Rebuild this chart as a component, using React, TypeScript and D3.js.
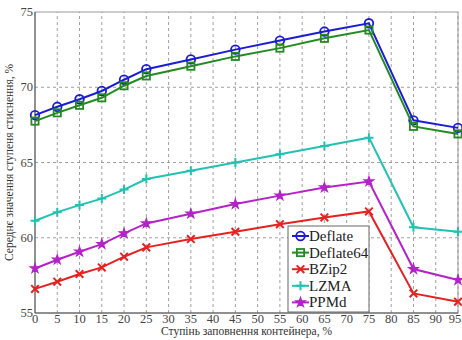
import * as d3 from "d3";
import { useEffect, useRef } from "react";

const fill = [0, 5, 10, 15, 20, 25, 35, 45, 55, 65, 75, 85, 95];
const deflate = [68.15, 68.7, 69.2, 69.75, 70.5, 71.2, 71.85, 72.5, 73.1, 73.7, 74.25, 67.8, 67.3];
const deflate64 = [67.75, 68.3, 68.8, 69.3, 70.1, 70.75, 71.4, 72.05, 72.6, 73.25, 73.8, 67.4, 66.9];
const bzip2 = [56.6, 57.08, 57.59, 58.03, 58.74, 59.36, 59.91, 60.4, 60.9, 61.35, 61.75, 56.3, 55.75];
const lzma = [61.13, 61.7, 62.17, 62.6, 63.2, 63.9, 64.45, 65.0, 65.55, 66.1, 66.65, 60.7, 60.4];
const ppmd = [57.96, 58.54, 59.07, 59.58, 60.29, 60.95, 61.6, 62.24, 62.8, 63.34, 63.74, 57.92, 57.19];
const xTicks = d3.range(0, 100, 5);
const yTicks = [55, 60, 65, 70, 75];

const series = [
  { name: "Deflate", values: deflate, color: "#1c1cd6", marker: "circle" },
  { name: "Deflate64", values: deflate64, color: "#238a23", marker: "square" },
  { name: "BZip2", values: bzip2, color: "#e52222", marker: "cross" },
  { name: "LZMA", values: lzma, color: "#22c2b2", marker: "plus" },
  { name: "PPMd", values: ppmd, color: "#b422c8", marker: "star" },
];

const App: React.FC = () => {
  const ref = useRef<SVGSVGElement | null>(null);

  useEffect(() => {
    const svg = d3.select(ref.current);
    svg.selectAll("*").remove();

    const width = 462,
      height = 340;
    const margin = { top: 12, right: 4, bottom: 27, left: 35 };
    const font = "Liberation Serif";

    svg.attr("width", width).attr("height", height).style("font-family", font);

    const x = d3.scaleLinear().domain([0, 95]).range([margin.left, width - margin.right]);
    const y = d3.scaleLinear().domain([55, 75]).range([height - margin.bottom, margin.top]);

    const g = svg.append("g");

    // grid
    g.selectAll(".vgrid")
      .data(xTicks.slice(1))
      .enter()
      .append("line")
      .attr("x1", (d) => x(d))
      .attr("x2", (d) => x(d))
      .attr("y1", y(55))
      .attr("y2", y(75))
      .attr("stroke", "#888")
      .attr("stroke-width", 0.8)
      .attr("stroke-dasharray", "3,3");
    g.selectAll(".hgrid")
      .data(yTicks.slice(1, -1))
      .enter()
      .append("line")
      .attr("x1", x(0))
      .attr("x2", x(95))
      .attr("y1", (d) => y(d))
      .attr("y2", (d) => y(d))
      .attr("stroke", "#888")
      .attr("stroke-width", 0.8)
      .attr("stroke-dasharray", "3,3");

    // frame
    g.append("rect")
      .attr("x", x(0))
      .attr("y", y(75))
      .attr("width", x(95) - x(0))
      .attr("height", y(55) - y(75))
      .attr("fill", "none")
      .attr("stroke", "#999")
      .attr("stroke-width", 1);
    g.append("line")
      .attr("x1", x(0)).attr("x2", x(0))
      .attr("y1", y(55)).attr("y2", y(75))
      .attr("stroke", "#555");
    g.append("line")
      .attr("x1", x(0)).attr("x2", x(95))
      .attr("y1", y(55)).attr("y2", y(55))
      .attr("stroke", "#555");

    // tick labels
    g.selectAll(".xt")
      .data(xTicks)
      .enter()
      .append("text")
      .attr("x", (d) => (d === 95 ? x(d) - 3 : x(d)))
      .attr("y", y(55) + 10)
      .attr("text-anchor", "middle")
      .attr("font-size", 12.5)
      .attr("fill", "#444")
      .text((d) => d);
    g.selectAll(".yt")
      .data(yTicks)
      .enter()
      .append("text")
      .attr("x", x(0) - 2)
      .attr("y", (d) => y(d) + 4)
      .attr("text-anchor", "end")
      .attr("font-size", 12.5)
      .attr("fill", "#444")
      .text((d) => d);

    g.append("text")
      .attr("x", (x(0) + x(95)) / 2)
      .attr("y", height - 5)
      .attr("text-anchor", "middle")
      .attr("font-size", 11.5)
      .attr("fill", "#333")
      .text("Ступінь заповнення контейнера, %");
    g.append("text")
      .attr("transform", `translate(13,${(y(55) + y(75)) / 2}) rotate(-90)`)
      .attr("text-anchor", "middle")
      .attr("font-size", 11.5)
      .attr("fill", "#333")
      .text("Середнє значення ступеня стиснення, %");

    const drawMarker = (sel: d3.Selection<SVGGElement, unknown, null, undefined>, m: string, color: string) => {
      if (m === "circle") {
        sel.append("circle").attr("r", 4.3).attr("fill", "none").attr("stroke", color).attr("stroke-width", 1.8);
      } else if (m === "square") {
        sel.append("rect").attr("x", -3.6).attr("y", -3.6).attr("width", 7.2).attr("height", 7.2)
          .attr("fill", "none").attr("stroke", color).attr("stroke-width", 1.8);
      } else if (m === "cross") {
        sel.append("path").attr("d", "M-3.8,-3.8L3.8,3.8M-3.8,3.8L3.8,-3.8").attr("stroke", color).attr("stroke-width", 2);
      } else if (m === "plus") {
        sel.append("path").attr("d", "M-4.5,0L4.5,0M0,-4.5L0,4.5").attr("stroke", color).attr("stroke-width", 2);
      } else {
        const star = d3.symbol().type(d3.symbolStar).size(28);
        sel.append("path").attr("d", star()).attr("fill", color).attr("stroke", color).attr("stroke-width", 1.2);
      }
    };

    const line = d3
      .line<number>()
      .x((_, i) => x(fill[i]))
      .y((d) => y(d));

    series.forEach((s) => {
      g.append("path")
        .attr("d", line(s.values))
        .attr("fill", "none")
        .attr("stroke", s.color)
        .attr("stroke-width", 2);
      s.values.forEach((v, i) => {
        const mg = g.append("g").attr("transform", `translate(${x(fill[i])},${y(v)})`);
        drawMarker(mg, s.marker, s.color);
      });
    });

    // legend
    const lx = 288,
      ly = 226;
    const lg = g.append("g").attr("transform", `translate(${lx},${ly})`);
    lg.append("rect")
      .attr("width", 81)
      .attr("height", 86)
      .attr("fill", "#fff")
      .attr("stroke", "#666")
      .attr("stroke-width", 1);
    series.forEach((s, i) => {
      const yy = 10 + i * 16.6;
      lg.append("line")
        .attr("x1", 4).attr("x2", 21)
        .attr("y1", yy).attr("y2", yy)
        .attr("stroke", s.color)
        .attr("stroke-width", 2);
      const mg = lg.append("g").attr("transform", `translate(12.5,${yy})`);
      drawMarker(mg, s.marker, s.color);
      lg.append("text")
        .attr("x", 21)
        .attr("y", yy + 5)
        .attr("font-size", 15)
        .attr("fill", "#222")
        .text(s.name);
    });
  }, []);

  return <svg ref={ref} style={{ position: "absolute", left: 0, top: 0 }}></svg>;
};

export default App;
